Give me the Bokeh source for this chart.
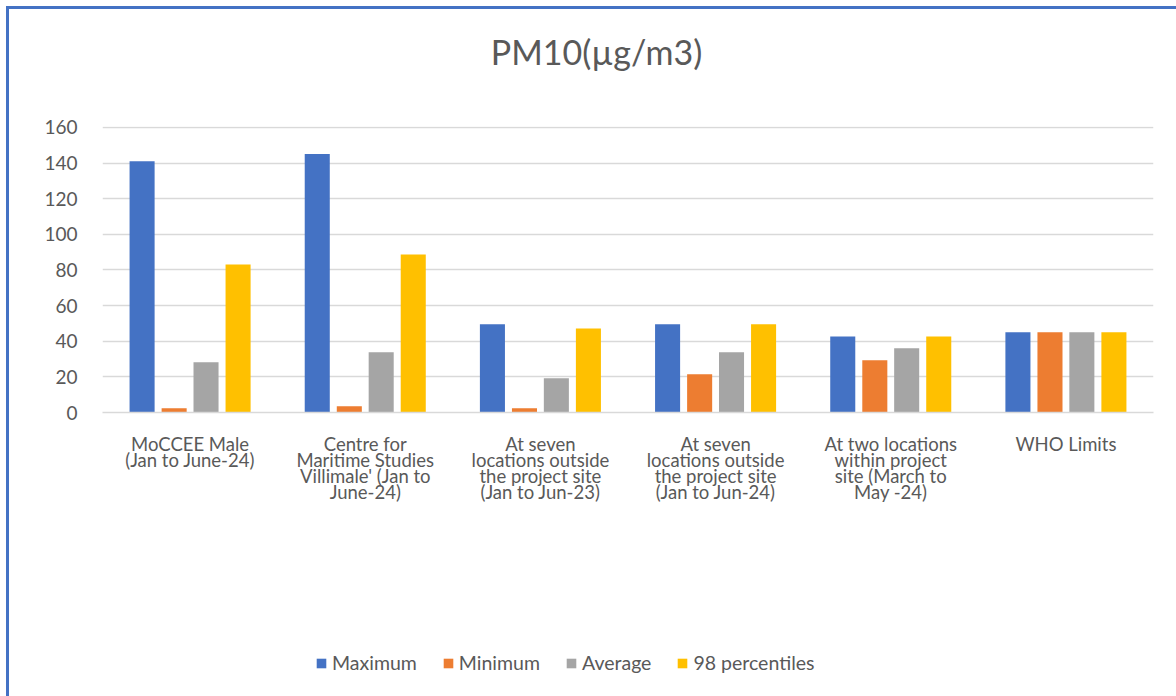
from bokeh.plotting import figure
from bokeh.layouts import column
from bokeh.models import (ColumnDataSource, FactorRange, Range1d, Legend, LegendItem,
                          FixedTicker, Label)
from bokeh.transform import dodge
from bokeh.embed import file_html
from bokeh.resources import INLINE

# ---- data ----
categories = [
    "MoCCEE Male\n(Jan to June-24)",
    "Centre for\nMaritime Studies\nVillimale' (Jan to\nJune-24)",
    "At seven\nlocations outside\nthe project site\n(Jan to Jun-23)",
    "At seven\nlocations outside\nthe project site\n(Jan to Jun-24)",
    "At two locations\nwithin project\nsite (March to\nMay -24)",
    "WHO Limits",
]
maximum = [141, 145, 49.5, 49.5, 42.7, 45]
minimum = [2.4, 3.5, 2.4, 21.5, 29.3, 45]
average = [28.2, 33.8, 19.2, 33.8, 36, 45]
percentile98 = [83, 88.7, 47.2, 49.5, 42.7, 45]
series_names = ["Maximum", "Minimum", "Average", "98 percentiles"]
series_keys = ["maximum", "minimum", "average", "percentile98"]
colors = ["#4472C4", "#ED7D31", "#A5A5A5", "#FFC000"]
y_ticks = [0, 20, 40, 60, 80, 100, 120, 140, 160]
title_text = "PM10(\u00b5g/m3)"

FONT = "Lato"
TEXT = "#595959"
W = 1167
ML, MR = 93, 23          # frame margins (frames of all strips are aligned)
FW = W - ML - MR          # frame width

src = ColumnDataSource(dict(cat=categories, maximum=maximum, minimum=minimum,
                            average=average, percentile98=percentile98))
xr = FactorRange(*categories)

# ---- title strip ----
tf = figure(width=W, height=80, x_range=Range1d(0, FW), y_range=Range1d(0, 80),
            x_axis_type=None, y_axis_type=None, output_backend="svg",
            toolbar_location=None, min_border_left=ML, min_border_right=MR,
            min_border_top=0, min_border_bottom=0)
tf.outline_line_color = None
tf.add_layout(Label(x=494, y=38, text=title_text, text_align="center",
                    text_baseline="middle", text_font=FONT, text_font_size="34px",
                    text_color=TEXT))

# ---- main chart ----
p = figure(width=W, height=531, x_range=xr,
           y_range=Range1d(0, 160.5), output_backend="svg", toolbar_location=None,
           min_border_left=ML, min_border_right=MR, min_border_top=37, min_border_bottom=208)
p.outline_line_color = None

offsets = [-0.274, -0.091, 0.091, 0.274]
for key, col, off in zip(series_keys, colors, offsets):
    p.vbar(x=dodge("cat", off, range=xr), top=key, width=0.143,
           source=src, fill_color=col, line_color=None)

p.xgrid.grid_line_color = None
p.ygrid.grid_line_color = "#D9D9D9"
p.ygrid.grid_line_width = 1.5

p.yaxis.ticker = FixedTicker(ticks=y_ticks)
p.yaxis.axis_line_color = None
p.yaxis.major_tick_line_color = None
p.yaxis.minor_tick_line_color = None
p.yaxis.major_tick_out = 0
p.yaxis.major_label_standoff = 25
p.yaxis.major_label_text_font = FONT
p.yaxis.major_label_text_font_size = "19px"
p.yaxis.major_label_text_color = TEXT

p.xaxis.axis_line_color = "#D9D9D9"
p.xaxis.axis_line_width = 1.5
p.xaxis.major_tick_line_color = None
p.xaxis.major_tick_out = 0
p.xaxis.major_label_standoff = 20
p.xaxis.major_label_text_font = FONT
p.xaxis.major_label_text_font_size = "18.5px"
p.xaxis.major_label_text_color = TEXT
p.xaxis.major_label_text_line_height = 0.74

# ---- legend strip (hidden copies of the bars provide the legend swatches) ----
lf = figure(width=W, height=76, x_range=xr, y_range=Range1d(0, 1),
            x_axis_type=None, y_axis_type=None, output_backend="svg",
            toolbar_location=None, min_border_left=ML, min_border_right=MR,
            min_border_top=0, min_border_bottom=0)
lf.outline_line_color = None
lf.xgrid.grid_line_color = None
items = []
for key, name, col, off in zip(series_keys, series_names, colors, offsets):
    lr = lf.vbar(x=dodge("cat", off, range=xr), top=key, width=0.143,
                 source=src, fill_color=col, line_color=None, visible=False)
    items.append(LegendItem(label=name, renderers=[lr]))
legend = Legend(items=items, orientation="horizontal", location=(213, 22),
                glyph_width=12, glyph_height=12, label_standoff=5, spacing=25,
                label_text_font=FONT, label_text_font_size="19.5px", label_text_color=TEXT,
                border_line_color=None, background_fill_alpha=0,
                inactive_fill_alpha=0)
lf.add_layout(legend, "center")

layout = column(tf, p, lf, spacing=0)
layout.styles = {"border-left": "3px solid #4472C4", "border-top": "3px solid #4472C4",
                 "margin-left": "6px", "margin-top": "6px"}

open("out.html", "w").write(file_html(layout, INLINE))
